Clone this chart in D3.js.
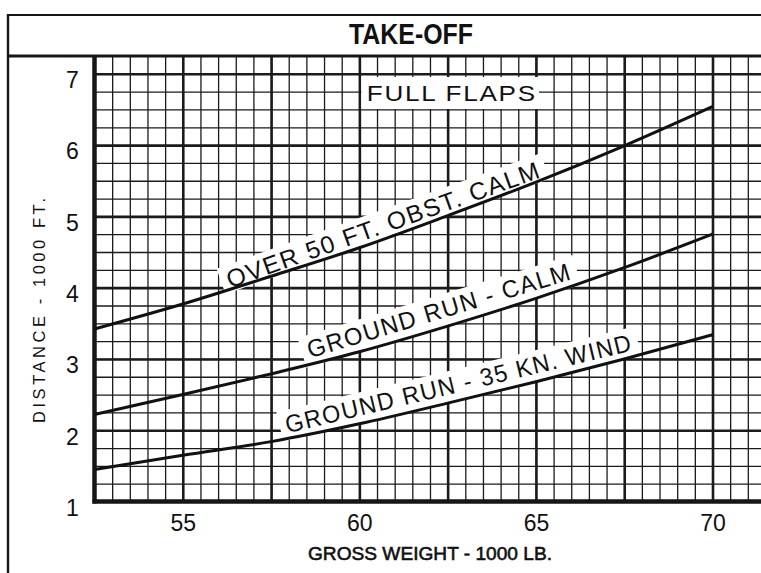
<!DOCTYPE html>
<html>
<head>
<meta charset="utf-8">
<script src="https://cdn.jsdelivr.net/npm/d3@7"></script>
<style>
  body { margin: 0; background: #fff; }
  svg { display: block; }
  text { font-family: 'Liberation Sans', Arial, sans-serif; fill: #111; }
</style>
</head>
<body>
<svg id="chart" width="761" height="573"></svg>
<script>
// gross weight (1000 lb) where the curves were read
const weights = [52.5, 55, 57.5, 60, 62.5, 65, 67.5, 70];
// distance (1000 ft)
const over50Calm = [3.42, 3.77, 4.16, 4.56, 5.01, 5.48, 5.99, 6.54];
const groundCalm = [2.22, 2.50, 2.79, 3.10, 3.46, 3.85, 4.28, 4.75];
const ground35Kn = [1.45, 1.65, 1.84, 2.09, 2.38, 2.68, 3.00, 3.34];
const seriesNames = ['OVER 50 FT. OBST. CALM', 'GROUND RUN - CALM', 'GROUND RUN - 35 KN. WIND'];

const xTicks = [55, 60, 65, 70];
const yTicks = [1, 2, 3, 4, 5, 6, 7];
const title = 'TAKE-OFF';
const subTitle = 'FULL FLAPS';
const xTitle = 'GROSS WEIGHT - 1000 LB.';
const yTitle = 'DISTANCE - 1000 FT.';

const W = 761, H = 573;
const plot = { left: 94.5, right: W, top: 56, bottom: 501.5 };

const svg = d3.select('#chart');

const x = d3.scaleLinear().domain([52.5, 70]).range([plot.left, 712.5]);
const y = d3.scaleLinear().domain([1, 7.25]).range([plot.bottom, plot.top]);

// grid positions (graph paper)
const xMinor = d3.range(53, 71.6, 0.5);
const xMajor = [55, 57.5, 60, 62.5, 65, 67.5, 70];
const yMinor = d3.range(1.25, 7.25, 0.25);
const yMajor = [2, 3, 4, 5, 6, 7];

function grid(vals, vertical, width) {
  const g = svg.append('g').attr('class', 'grid');
  if (vertical) {
    g.attr('transform', `translate(0,${plot.bottom})`)
      .call(d3.axisBottom(x).tickValues(vals).tickSize(-(plot.bottom - plot.top)).tickFormat(''));
  } else {
    g.attr('transform', `translate(${plot.left},0)`)
      .call(d3.axisLeft(y).tickValues(vals).tickSize(-(plot.right - plot.left)).tickFormat(''));
  }
  g.select('.domain').remove();
  g.selectAll('line').attr('stroke', '#1b1b1b').attr('stroke-width', width);
}
grid(xMinor, true, 1.3);
grid(yMinor, false, 1.3);
grid(xMajor, true, 2.6);
grid(yMajor, false, 2.6);

// frame
const frame = svg.append('g').attr('stroke', '#161616').attr('fill', 'none');
frame.append('line').attr('x1', 8).attr('x2', W).attr('y1', 15).attr('y2', 15).attr('stroke-width', 2.2);
frame.append('line').attr('x1', 8).attr('x2', 8).attr('y1', 14).attr('y2', H).attr('stroke-width', 2.4);
frame.append('line').attr('x1', 8).attr('x2', W).attr('y1', plot.top).attr('y2', plot.top).attr('stroke-width', 3);
frame.append('line').attr('x1', plot.left).attr('x2', plot.left).attr('y1', plot.top).attr('y2', plot.bottom + 2).attr('stroke-width', 4.5);
frame.append('line').attr('x1', plot.left - 2).attr('x2', W).attr('y1', plot.bottom).attr('y2', plot.bottom).attr('stroke-width', 4.5);

// tick labels
svg.append('g')
  .attr('transform', `translate(0,${plot.bottom})`)
  .call(d3.axisBottom(x).tickValues(xTicks).tickSize(0).tickPadding(13).tickFormat(d3.format('d')))
  .call(g => g.select('.domain').remove())
  .selectAll('text').attr('font-size', 23).attr('font-family', null).attr('fill', '#111');

svg.append('g')
  .attr('transform', `translate(${plot.left},0)`)
  .call(d3.axisLeft(y).tickValues(yTicks).tickSize(0).tickFormat(d3.format('d')))
  .call(g => g.select('.domain').remove())
  .selectAll('text')
  .attr('font-size', 23).attr('font-family', null).attr('fill', '#111')
  .attr('text-anchor', 'middle').attr('x', -22).attr('dy', '0.6em');

// titles
svg.append('text')
  .attr('x', 411).attr('y', 44)
  .attr('text-anchor', 'middle')
  .attr('font-family', "'Liberation Sans Narrow', 'Liberation Sans', sans-serif")
  .attr('font-weight', 'bold').attr('font-size', 29)
  .attr('textLength', 124).attr('lengthAdjust', 'spacingAndGlyphs')
  .text(title);

svg.append('text')
  .attr('x', 430).attr('y', 560)
  .attr('text-anchor', 'middle')
  .attr('font-size', 19)
  .attr('stroke', '#111').attr('stroke-width', 0.6)
  .attr('textLength', 244).attr('lengthAdjust', 'spacingAndGlyphs')
  .text(xTitle);

svg.append('text')
  .attr('transform', 'translate(44.5,310.5) rotate(-90)')
  .attr('text-anchor', 'middle')
  .attr('font-size', 16.5)
  .attr('textLength', 225).attr('lengthAdjust', 'spacing')
  .text(yTitle);

// FULL FLAPS box
const boxG = svg.append('g');
boxG.append('rect')
  .attr('x', x(60) + 2).attr('y', 77)
  .attr('width', x(65) - x(60) + 1).attr('height', 32)
  .attr('fill', '#fff');
boxG.append('text')
  .attr('x', x(62.62)).attr('y', y(6.62))
  .attr('text-anchor', 'middle')
  .attr('font-size', 22.5)
  .attr('letter-spacing', 1.5)
  .attr('textLength', 170).attr('lengthAdjust', 'spacingAndGlyphs')
  .text(subTitle);

// curve labels
function valueAt(vals, w) {
  const i = Math.min(weights.length - 2, Math.max(0, d3.bisectRight(weights, w) - 1));
  const t = (w - weights[i]) / (weights[i + 1] - weights[i]);
  return vals[i] + t * (vals[i + 1] - vals[i]);
}

const curveSeries = [over50Calm, groundCalm, ground35Kn];
const labelSpots = [
  { at: 60.81, gap: 5, len: 332 },
  { at: 62.40, gap: 9, len: 275 },
  { at: 62.92, gap: 8, len: 356 }
];

const labels = svg.append('g');
curveSeries.forEach((vals, k) => {
  const spot = labelSpots[k];
  const cx = x(spot.at), cy = y(valueAt(vals, spot.at));
  const x0 = x(spot.at - 1.25), y0 = y(valueAt(vals, spot.at - 1.25));
  const x1 = x(spot.at + 1.25), y1 = y(valueAt(vals, spot.at + 1.25));
  const ang = Math.atan2(y1 - y0, x1 - x0) * 180 / Math.PI;
  const g = labels.append('g').attr('transform', `translate(${cx},${cy}) rotate(${ang})`);
  g.append('rect')
    .attr('x', -spot.len / 2 - 6).attr('y', -spot.gap - 23)
    .attr('width', spot.len + 12).attr('height', 23 + spot.gap - 1)
    .attr('fill', '#fff');
  g.append('text')
    .attr('x', 0).attr('y', -spot.gap)
    .attr('text-anchor', 'middle')
    .attr('font-size', 24.5)
    .attr('letter-spacing', 1.5)
    .attr('textLength', spot.len).attr('lengthAdjust', 'spacingAndGlyphs')
    .text(seriesNames[k]);
});

// curves
const line = d3.line()
  .x((d, i) => x(weights[i]))
  .y(d => y(d))
  .curve(d3.curveMonotoneX);

svg.append('g').selectAll('path')
  .data(curveSeries)
  .join('path')
  .attr('d', line)
  .attr('fill', 'none')
  .attr('stroke', '#111')
  .attr('stroke-width', 3);
</script>
</body>
</html>
